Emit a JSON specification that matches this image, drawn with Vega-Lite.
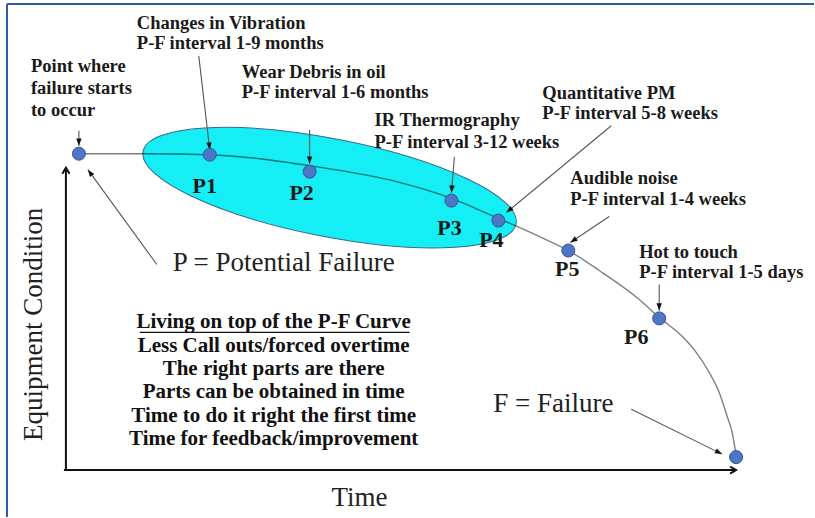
{
  "$schema": "https://vega.github.io/schema/vega-lite/v6.json",
  "width": 815,
  "height": 518,
  "autosize": {"type": "fit", "contains": "padding"},
  "padding": 0,
  "background": "white",
  "config": {"view": {"stroke": null}},
  "datasets": {
    "ellipse": [{"t": 330, "c": 330}],
    "curve": [
      {"t": 79, "c": 364}, {"t": 143, "c": 364}, {"t": 210, "c": 363}, {"t": 260, "c": 359},
      {"t": 310, "c": 352}, {"t": 397, "c": 336}, {"t": 450, "c": 320}, {"t": 497, "c": 300},
      {"t": 540, "c": 281}, {"t": 569, "c": 267}, {"t": 600, "c": 247}, {"t": 640, "c": 218},
      {"t": 660, "c": 200}, {"t": 683, "c": 181}, {"t": 697, "c": 165}, {"t": 710, "c": 145},
      {"t": 720, "c": 125}, {"t": 728, "c": 101}, {"t": 733, "c": 85}, {"t": 736, "c": 68},
      {"t": 737, "c": 61}
    ],
    "dots": [
      {"name": "Start", "t": 79, "c": 364}, {"name": "P1", "t": 210, "c": 363},
      {"name": "P2", "t": 310, "c": 346}, {"name": "P3", "t": 452, "c": 317},
      {"name": "P4", "t": 499, "c": 297}, {"name": "P5", "t": 569, "c": 267},
      {"name": "P6", "t": 660, "c": 199}, {"name": "F", "t": 737, "c": 60}
    ],
    "arrows": [
      {"t": 79, "c": 387, "t2": 79, "c2": 372},
      {"t": 199, "c": 462, "t2": 210, "c2": 368},
      {"t": 310, "c": 388, "t2": 310, "c2": 354},
      {"t": 455, "c": 361, "t2": 452, "c2": 325},
      {"t": 612, "c": 392, "t2": 507, "c2": 305},
      {"t": 610, "c": 301, "t2": 571, "c2": 275},
      {"t": 660, "c": 233, "t2": 660, "c2": 207},
      {"t": 157, "c": 253, "t2": 88, "c2": 348},
      {"t": 632, "c": 108, "t2": 723, "c2": 63}
    ],
    "axes": [
      {"t": 66, "c": 46, "t2": 66, "c2": 350},
      {"t": 64, "c": 47, "t2": 737, "c2": 47}
    ],
    "border": [
      {"t": 7, "c": 514, "t2": 815, "c2": 514},
      {"t": 7, "c": 514, "t2": 7, "c2": 0}
    ],
    "underline": [{"t": 140, "c": 185, "t2": 410, "c2": 185}],
    "notes": [
      {"label": "Point where", "t": 31, "c": 452},
      {"label": "failure starts", "t": 31, "c": 430},
      {"label": "to occur", "t": 31, "c": 408},
      {"label": "Changes in Vibration", "t": 137, "c": 495},
      {"label": "P-F interval 1-9 months", "t": 137, "c": 475},
      {"label": "Wear Debris in oil", "t": 242, "c": 446},
      {"label": "P-F interval 1-6 months", "t": 242, "c": 426},
      {"label": "IR Thermography", "t": 375, "c": 398},
      {"label": "P-F interval  3-12 weeks", "t": 375, "c": 376},
      {"label": "Quantitative PM", "t": 543, "c": 425},
      {"label": "P-F interval 5-8 weeks", "t": 543, "c": 405},
      {"label": "Audible noise", "t": 571, "c": 340},
      {"label": "P-F interval 1-4 weeks", "t": 571, "c": 319},
      {"label": "Hot to touch", "t": 640, "c": 266},
      {"label": "P-F interval 1-5 days", "t": 640, "c": 245}
    ],
    "plabels": [
      {"label": "P1", "t": 205, "c": 332}, {"label": "P2", "t": 302, "c": 325},
      {"label": "P3", "t": 450, "c": 290}, {"label": "P4", "t": 492, "c": 278},
      {"label": "P5", "t": 568, "c": 248}, {"label": "P6", "t": 637, "c": 180}
    ],
    "big": [
      {"label": "P = Potential Failure", "t": 284, "c": 254},
      {"label": "F = Failure", "t": 554, "c": 113},
      {"label": "Time", "t": 360, "c": 19}
    ],
    "ytitle": [{"label": "Equipment Condition", "t": 34, "c": 193}],
    "block": [
      {"label": "Living on top of the P-F Curve", "t": 274, "c": 195},
      {"label": "Less Call outs/forced overtime", "t": 274, "c": 171},
      {"label": "The right parts are there", "t": 274, "c": 148},
      {"label": "Parts can be obtained in time", "t": 274, "c": 125},
      {"label": "Time to do it right the first time", "t": 274, "c": 101},
      {"label": "Time for feedback/improvement", "t": 274, "c": 78}
    ]
  },
  "encoding": {
    "x": {"field": "t", "type": "quantitative", "scale": {"domain": [0, 815], "nice": false, "zero": false}, "axis": null},
    "y": {"field": "c", "type": "quantitative", "scale": {"domain": [0, 518], "nice": false, "zero": false}, "axis": null}
  },
  "layer": [
    {
      "data": {"name": "border"},
      "mark": {"type": "rule", "color": "#2d5ca6", "strokeWidth": 2},
      "encoding": {"x2": {"field": "t2"}, "y2": {"field": "c2"}}
    },
    {
      "data": {"name": "ellipse"},
      "mark": {
        "type": "point",
        "shape": "M -1 0 C -1 -0.1425 -0.5523 -0.258 0 -0.258 C 0.5523 -0.258 1 -0.1425 1 0 C 1 0.1425 0.5523 0.258 0 0.258 C -0.5523 0.258 -1 0.1425 -1 0 Z",
        "size": 144400,
        "angle": 11,
        "filled": true,
        "fill": "#14eef4",
        "stroke": "#3a6a8a",
        "strokeWidth": 1,
        "opacity": 1
      }
    },
    {
      "data": {"name": "curve"},
      "mark": {"type": "line", "interpolate": "monotone", "color": "#000", "opacity": 0.5, "strokeWidth": 1.4}
    },
    {
      "data": {"name": "axes"},
      "mark": {"type": "rule", "color": "#111", "strokeWidth": 2},
      "encoding": {"x2": {"field": "t2"}, "y2": {"field": "c2"}}
    },
    {
      "data": {"name": "axes"},
      "transform": [{"calculate": "(atan2(datum.t2 - datum.t, datum.c2 - datum.c) * 180 / PI + 360) % 360", "as": "dir"}],
      "mark": {"type": "point", "shape": "M -0.6 1 L 0 0 L 0.6 1", "size": 144, "filled": false, "color": "#111", "strokeWidth": 2, "opacity": 1},
      "encoding": {
        "x": {"field": "t2", "type": "quantitative"},
        "y": {"field": "c2", "type": "quantitative"},
        "angle": {"field": "dir", "type": "quantitative", "scale": null}
      }
    },
    {
      "data": {"name": "arrows"},
      "mark": {"type": "rule", "color": "#555", "strokeWidth": 1.1},
      "encoding": {"x2": {"field": "t2"}, "y2": {"field": "c2"}}
    },
    {
      "data": {"name": "arrows"},
      "transform": [{"calculate": "(atan2(datum.t2 - datum.t, datum.c2 - datum.c) * 180 / PI + 360) % 360", "as": "dir"}],
      "mark": {"type": "point", "shape": "M 0 0 L 0.45 1.2 L -0.45 1.2 Z", "size": 144, "filled": true, "color": "#111", "opacity": 1},
      "encoding": {
        "x": {"field": "t2", "type": "quantitative"},
        "y": {"field": "c2", "type": "quantitative"},
        "angle": {"field": "dir", "type": "quantitative", "scale": null}
      }
    },
    {
      "data": {"name": "dots"},
      "mark": {"type": "point", "shape": "circle", "size": 170, "filled": true, "fill": "#4d76c4", "stroke": "#35589a", "strokeWidth": 1, "opacity": 1}
    },
    {
      "data": {"name": "notes"},
      "mark": {"type": "text", "align": "left", "baseline": "middle", "font": "Liberation Serif", "fontWeight": "bold", "fontSize": 18.5, "color": "#1a1a1a"},
      "encoding": {"text": {"field": "label"}}
    },
    {
      "data": {"name": "plabels"},
      "mark": {"type": "text", "align": "center", "baseline": "middle", "font": "Liberation Serif", "fontWeight": "bold", "fontSize": 22, "color": "#1a1a1a"},
      "encoding": {"text": {"field": "label"}}
    },
    {
      "data": {"name": "big"},
      "mark": {"type": "text", "align": "center", "baseline": "middle", "font": "Liberation Serif", "fontSize": 27, "color": "#222"},
      "encoding": {"text": {"field": "label"}}
    },
    {
      "data": {"name": "ytitle"},
      "mark": {"type": "text", "align": "center", "baseline": "middle", "angle": 270, "font": "Liberation Serif", "fontSize": 27, "color": "#222"},
      "encoding": {"text": {"field": "label"}}
    },
    {
      "data": {"name": "block"},
      "mark": {"type": "text", "align": "center", "baseline": "middle", "font": "Liberation Serif", "fontWeight": "bold", "fontSize": 21, "color": "#111"},
      "encoding": {"text": {"field": "label"}}
    },
    {
      "data": {"name": "underline"},
      "mark": {"type": "rule", "color": "#111", "strokeWidth": 1.3},
      "encoding": {"x2": {"field": "t2"}, "y2": {"field": "c2"}}
    }
  ]
}
